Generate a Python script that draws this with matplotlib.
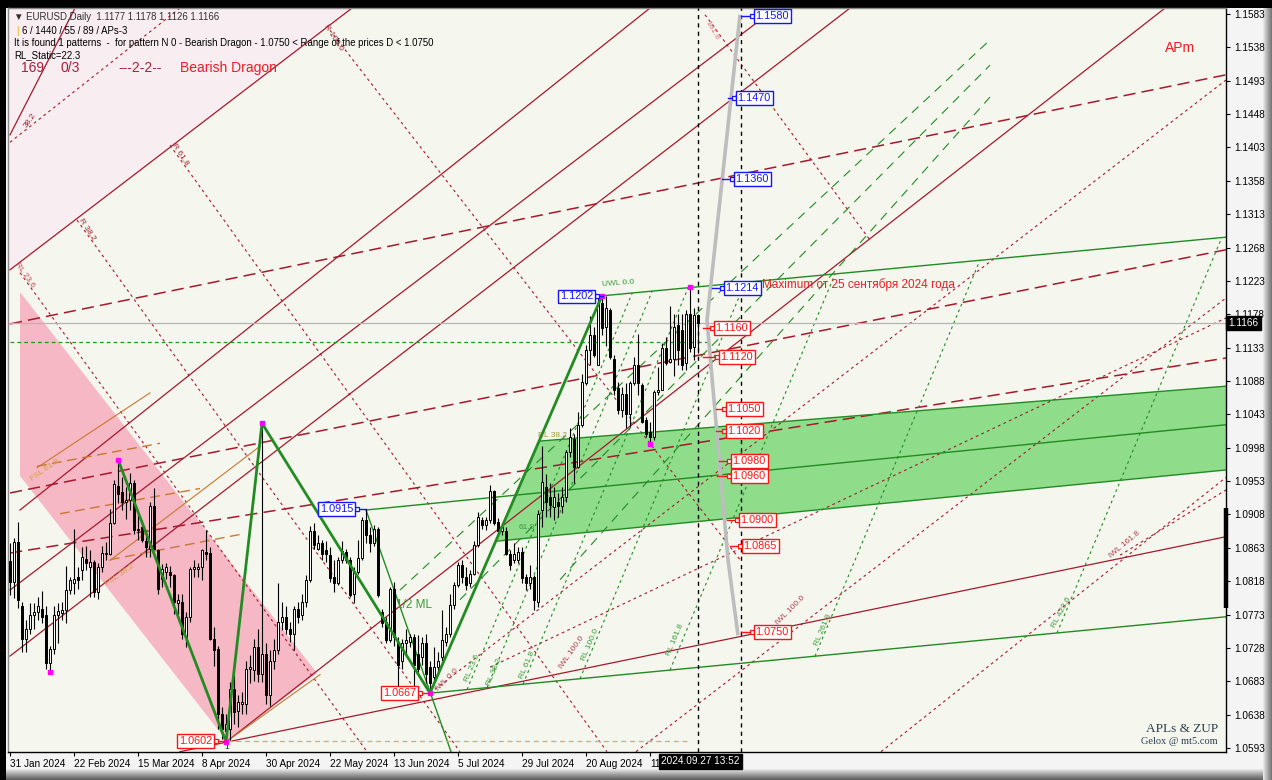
import matplotlib
matplotlib.use("Agg")
import matplotlib.pyplot as plt
from matplotlib.patches import Polygon, Rectangle
import matplotlib.transforms as mtransforms
import numpy as np

plt.rcParams['font.family'] = ['Liberation Sans', 'DejaVu Sans']

# ---------------- data (bar index 0 = 31 Jan 2024, daily bars) ----------------
opens = [1.0845,1.0817,1.0871,1.0785,1.0740,1.0754,1.0772,1.0776,1.0781,1.0772,
         1.0707,1.0727,1.0772,1.0775,1.0779,1.0806,1.0815,1.0824,1.0833,1.0848,
         1.0837,1.0844,1.0803,1.0837,1.0855,1.0855,1.0896,1.0947,1.0938,1.0925,
         1.0927,1.0950,1.0889,1.0891,1.0872,1.0862,1.0920,1.0860,1.0821,1.0830,
         1.0831,1.0826,1.0788,1.0790,1.0743,1.0770,1.0835,1.0835,1.0837,1.0858,
         1.0856,1.0740,1.0727,1.0639,1.0616,1.0619,1.0673,1.0643,1.0653,1.0652,
         1.0700,1.0698,1.0729,1.0693,1.0720,1.0664,1.0711,1.0725,1.0763,1.0770,
         1.0754,1.0747,1.0781,1.0772,1.0790,1.0819,1.0885,1.0862,1.0869,1.0860,
         1.0853,1.0824,1.0815,1.0846,1.0858,1.0846,1.0801,1.0831,1.0849,1.0900,
         1.0880,1.0869,1.0889,1.0777,1.0763,1.0738,1.0808,1.0736,1.0710,1.0734,
         1.0736,1.0743,1.0720,1.0716,1.0734,1.0702,1.0689,1.0702,1.0716,1.0736,
         1.0747,1.0786,1.0813,1.0840,1.0824,1.0815,1.0828,1.0867,1.0900,1.0894,
         1.0900,1.0939,1.0898,1.0885,1.0885,1.0855,1.0846,1.0846,1.0858,1.0824,
         1.0815,1.0824,1.0790,1.0914,1.0945,1.0932,1.0918,1.0925,1.0920,1.0932,
         1.0992,1.1010,1.0972,1.1028,1.1085,1.1130,1.1150,1.1110,1.1193,1.1161,
         1.1184,1.1118,1.1078,1.1049,1.1071,1.1044,1.1085,1.1110,1.1082,1.1035,
         1.1019,1.1013,1.1073,1.1076,1.1132,1.1114,1.1118,1.1163,1.1157,1.1112,
         1.1179,1.1134,1.1177]
highs = [1.0870,1.0876,1.0898,1.0790,1.0765,1.0788,1.0788,1.0797,1.0805,1.0785,
         1.0731,1.0785,1.0788,1.0790,1.0839,1.0824,1.0889,1.0837,1.0864,1.0866,
         1.0860,1.0846,1.0842,1.0866,1.0871,1.0916,1.0954,1.0982,1.0958,1.0945,
         1.0964,1.0954,1.0914,1.0900,1.0880,1.0925,1.0943,1.0862,1.0841,1.0842,
         1.0839,1.0828,1.0801,1.0801,1.0776,1.0837,1.0846,1.0842,1.0862,1.0887,
         1.0864,1.0756,1.0731,1.0648,1.0639,1.0682,1.0691,1.0664,1.0668,1.0711,
         1.0718,1.0740,1.0754,1.1031,1.0734,1.0725,1.0740,1.0815,1.0790,1.0785,
         1.0763,1.0785,1.0790,1.0801,1.0826,1.0893,1.0896,1.0880,1.0874,1.0872,
         1.0864,1.0846,1.0851,1.0872,1.0862,1.0851,1.0837,1.0874,1.0905,1.0915,
         1.0891,1.0894,1.0891,1.0781,1.0770,1.0810,1.0817,1.0743,1.0740,1.0754,
         1.0747,1.0747,1.0745,1.0743,1.0747,1.0711,1.0729,1.0723,1.0779,1.0756,
         1.0801,1.0817,1.0844,1.0846,1.0837,1.0833,1.0872,1.0911,1.0905,1.0905,
         1.0948,1.0941,1.0903,1.0894,1.0891,1.0860,1.0869,1.0864,1.0864,1.0828,
         1.0840,1.0826,1.0914,1.1000,1.0963,1.0950,1.0945,1.0937,1.0945,1.0995,
         1.1024,1.1017,1.1046,1.1098,1.1137,1.1175,1.1161,1.1202,1.1203,1.1202,
         1.1186,1.1123,1.1087,1.1080,1.1085,1.1088,1.1121,1.1152,1.1085,1.1040,
         1.1033,1.1076,1.1107,1.1139,1.1148,1.1189,1.1179,1.1179,1.1179,1.1184,
         1.1215,1.1186,1.1178]
lows = [1.0800,1.0795,1.0782,1.0722,1.0722,1.0747,1.0754,1.0765,1.0761,1.0700,
        1.0696,1.0720,1.0734,1.0765,1.0761,1.0801,1.0801,1.0808,1.0819,1.0833,
        1.0797,1.0797,1.0794,1.0830,1.0846,1.0853,1.0895,1.0923,1.0914,1.0902,
        1.0914,1.0882,1.0873,1.0871,1.0851,1.0851,1.0860,1.0801,1.0810,1.0821,
        1.0810,1.0774,1.0774,1.0740,1.0729,1.0763,1.0824,1.0824,1.0819,1.0846,
        1.0738,1.0704,1.0619,1.0605,1.0601,1.0604,1.0625,1.0621,1.0639,1.0639,
        1.0680,1.0684,1.0682,1.0682,1.0652,1.0650,1.0700,1.0720,1.0752,1.0747,
        1.0736,1.0725,1.0761,1.0765,1.0783,1.0817,1.0862,1.0860,1.0846,1.0844,
        1.0817,1.0804,1.0813,1.0842,1.0842,1.0797,1.0788,1.0828,1.0846,1.0869,
        1.0858,1.0865,1.0797,1.0756,1.0734,1.0736,1.0731,1.0673,1.0700,1.0720,
        1.0729,1.0671,1.0696,1.0705,1.0680,1.0667,1.0682,1.0696,1.0711,1.0731,
        1.0743,1.0781,1.0810,1.0815,1.0806,1.0810,1.0826,1.0864,1.0889,1.0887,
        1.0896,1.0894,1.0880,1.0880,1.0853,1.0833,1.0842,1.0842,1.0815,1.0806,
        1.0808,1.0779,1.0783,1.0891,1.0905,1.0905,1.0900,1.0905,1.0910,1.0925,
        1.0986,1.0950,1.0970,1.1026,1.1082,1.1110,1.1121,1.1110,1.1150,1.1135,
        1.1118,1.1069,1.1044,1.1040,1.1024,1.1026,1.1082,1.1069,1.1031,1.1013,
        1.1003,1.1008,1.1069,1.1076,1.1110,1.1112,1.1095,1.1110,1.1103,1.1103,
        1.1127,1.1116,1.1126]
closes = [1.0817,1.0871,1.0792,1.0740,1.0754,1.0772,1.0776,1.0785,1.0770,1.0707,
          1.0727,1.0772,1.0778,1.0779,1.0806,1.0819,1.0821,1.0819,1.0851,1.0842,
          1.0844,1.0803,1.0837,1.0856,1.0856,1.0896,1.0949,1.0936,1.0925,1.0927,
          1.0950,1.0887,1.0887,1.0873,1.0864,1.0920,1.0862,1.0808,1.0835,1.0837,
          1.0826,1.0790,1.0793,1.0747,1.0770,1.0835,1.0837,1.0837,1.0860,1.0855,
          1.0740,1.0725,1.0639,1.0619,1.0625,1.0673,1.0641,1.0655,1.0655,1.0700,
          1.0702,1.0729,1.0693,1.0720,1.0664,1.0711,1.0725,1.0763,1.0770,1.0754,
          1.0747,1.0781,1.0770,1.0790,1.0819,1.0885,1.0867,1.0869,1.0855,1.0855,
          1.0822,1.0815,1.0846,1.0859,1.0846,1.0799,1.0831,1.0849,1.0900,1.0880,
          1.0869,1.0889,1.0799,1.0761,1.0738,1.0808,1.0743,1.0705,1.0734,1.0738,
          1.0743,1.0705,1.0700,1.0734,1.0693,1.0680,1.0702,1.0711,1.0738,1.0747,
          1.0786,1.0813,1.0840,1.0824,1.0813,1.0828,1.0867,1.0905,1.0894,1.0900,
          1.0939,1.0896,1.0885,1.0891,1.0855,1.0840,1.0855,1.0858,1.0822,1.0815,
          1.0824,1.0792,1.0909,1.0952,1.0925,1.0921,1.0932,1.0920,1.0932,1.0992,
          1.1013,1.0972,1.1028,1.1087,1.1130,1.1150,1.1123,1.1193,1.1159,1.1186,
          1.1121,1.1076,1.1049,1.1071,1.1044,1.1085,1.1110,1.1085,1.1033,1.1017,
          1.1013,1.1073,1.1076,1.1132,1.1112,1.1118,1.1161,1.1130,1.1110,1.1179,
          1.1132,1.1177,1.1166]

price_levels = [round(1.1583 - 0.0045 * k, 4) for k in range(23)]
date_idx = [0, 16, 32, 48, 64, 80, 96, 112, 128, 144, 160]
date_labels = ['31 Jan 2024', '22 Feb 2024', '15 Mar 2024', '8 Apr 2024', '30 Apr 2024',
               '22 May 2024', '13 Jun 2024', '5 Jul 2024', '29 Jul 2024', '20 Aug 2024',
               '11']
last_price = 1.1166

# pattern zigzag (bar index, price)
zz_idx = [27, 54, 63, 105, 148]
zz_px = [1.0982, 1.0601, 1.1031, 1.0667, 1.1203]
# extreme markers
mk_idx = [10, 27, 54, 63, 105, 148, 160, 170]
mk_px = [1.0696, 1.0982, 1.0601, 1.1031, 1.0667, 1.1203, 1.1003, 1.1215]
# future projection (grey)
proj_idx = [182.5, 174.25, 179.5, 182.0]
proj_px = [1.1582, 1.1170, 1.0847, 1.0745]

# channels / bands (bar index, price)
pink_idx = [2.5, 76.75, 54.25, 2.5]
pink_px = [1.1208, 1.0694, 1.0602, 1.0960]
band_idx = [121.75, 132.5, 304, 304]
band_px = [1.0872, 1.1007, 1.1081, 1.0968]

# line segments: (i0, p0, i1, p1)
red_solid = [(0, 1.1420, 16.25, 1.1591), (0, 1.1238, 85.5, 1.1591), (2.5, 1.0914, 160, 1.1591),
             (0, 1.0806, 191.5, 1.1591), (0, 1.0717, 210, 1.1591), (54.25, 1.0602, 288.75, 1.1591),
             (42.5, 1.0588, 304, 1.0878)]
red_longdash = [(0, 1.1165, 304, 1.1501), (0, 1.0937, 304, 1.1265), (0, 1.0856, 304, 1.1119)]
red_dotted = [(0, 1.1410, 42.5, 1.1591),
              (2.5, 1.1234, 89.25, 1.0588), (16.75, 1.1305, 112.5, 1.0588), (40, 1.1406, 149.25, 1.0588),
              (80, 1.1561, 182.5, 1.0847), (173.75, 1.1582, 215, 1.1278),
              (105, 1.0667, 304, 1.1494), (156.5, 1.0588, 304, 1.1200), (217.75, 1.0588, 304, 1.0958),
              (120, 1.0702, 304, 1.1173), (277.5, 1.0853, 304, 1.0941)]
brown_solid = [(6.75, 1.0971, 35, 1.1072), (25, 1.0846, 62.5, 1.1000), (54.25, 1.0602, 77.5, 1.0692)]
brown_dash = [(6.75, 1.0973, 37.5, 1.1004), (12.5, 1.0909, 47.5, 1.0943), (25, 1.0847, 57.5, 1.0881)]
green_solid = [(148.25, 1.1203, 304, 1.1282), (89, 1.0914, 304, 1.1029), (105, 1.0667, 304, 1.0770),
               (132.5, 1.1007, 304, 1.1081), (121.75, 1.0872, 304, 1.0968), (89, 1.0914, 110.25, 1.0588)]
green_longdash = [(97.5, 1.0806, 245, 1.1548), (112.5, 1.0793, 245, 1.1514), (137.5, 1.0820, 245, 1.1471)]
rl_base_idx = [114.25, 119.25, 128.25, 142.5, 165, 201.25, 261.75]
rl_slope = 0.0012948  # price per bar

box_labels = [  # text, colour, box x (bar idx), anchor x (bar idx), side
    ('1.1580', 'blue', 185.5, 182.75, 'left'), ('1.1470', 'blue', 181.0, 179.5, 'left'),
    ('1.1360', 'blue', 180.5, 178.0, 'left'), ('1.1214', 'blue', 178.0, 175.5, 'left'),
    ('1.1202', 'blue', 146.75, 148.25, 'right'), ('1.0915', 'blue', 86.75, 89.0, 'right'),
    ('1.1160', 'red', 175.5, 173.25, 'left'), ('1.1120', 'red', 176.75, 173.25, 'left'),
    ('1.1050', 'red', 178.5, 176.5, 'left'), ('1.1020', 'red', 178.5, 176.5, 'left'),
    ('1.0980', 'red', 179.75, 177.25, 'left'), ('1.0960', 'red', 179.75, 176.75, 'left'),
    ('1.0900', 'red', 181.75, 179.25, 'left'), ('1.0865', 'red', 182.5, 180.0, 'left'),
    ('1.0750', 'red', 185.5, 182.75, 'left'), ('1.0667', 'red', 102.5, 105.0, 'right'),
    ('1.0602', 'red', 51.5, 54.25, 'right')]

line_texts = [  # text, i, p, rotation, colour
    ('RL 23.6', 3.75, 1.1231, -55, '#d04050'), ('R 38.2', 19.25, 1.1292, -57, '#a02030'),
    ('R 61.8', 42.5, 1.1393, -57, '#a02030'), ('R 100.0', 80.75, 1.1551, -57, '#a02030'),
    ('161.8', 175.5, 1.1561, -60, '#e07080'), ('38.2', 5, 1.1440, 55, '#a02030'),
    ('FSL 61.8', 8.75, 1.0968, 35, '#d8a040'), ('FSL 38.2', 27.5, 1.0826, 35, '#d8a040'),
    ('UWL 0.0', 152, 1.1219, 4, '#3a9a3a'), ('RL 38.2', 135.5, 1.1014, 0, '#9a9a30'),
    ('61.8', 129.25, 1.0891, 0, '#3a9a3a'), ('IWL 0.0', 109.25, 1.0685, 45, '#b04050'),
    ('RL 23.6', 115.5, 1.0701, 67, '#3a9a3a'), ('RL 38.2', 121, 1.0696, 67, '#3a9a3a'),
    ('RL 61.8', 129.25, 1.0705, 67, '#3a9a3a'), ('IWL 100.0', 140.5, 1.0722, 55, '#b04050'),
    ('RL 100.0', 145, 1.0732, 67, '#3a9a3a'), ('RL 161.8', 166.25, 1.0739, 67, '#3a9a3a'),
    ('IWL 100.0', 195, 1.0779, 45, '#b04050'), ('RL 261.8', 203.25, 1.0752, 67, '#3a9a3a'),
    ('RL 423.6', 263, 1.0776, 62, '#3a9a3a'), ('IWL 161.8', 278.75, 1.0867, 40, '#b04050')]

# ---------------- figure ----------------
W, H = 1272, 780
fig = plt.figure(figsize=(W / 100, H / 100), dpi=100)
fig.patch.set_facecolor('#000000')


def frame_rect(x0, y0, x1, y1, color, z=0):
    fig.add_artist(Rectangle((x0 / W, 1 - y1 / H), (x1 - x0) / W, (y1 - y0) / H,
                             transform=fig.transFigure, facecolor=color, edgecolor='none', zorder=z))


frame_rect(6, 8, 1263, 770, '#f4f4f4')
bevel = ['#e6e6e6', '#d6d6d6', '#c8c8c8', '#bababa', '#acacac', '#9e9e9e', '#909090', '#848484', '#787878']
for k, col in enumerate(bevel):
    frame_rect(1263 + k, 8, 1264 + k, 780, col)
for k, col in enumerate(bevel + ['#6c6c6c', '#606060']):
    frame_rect(6, 769 + k, 1263, 770 + k, col)

ax = fig.add_axes([8 / W, 1 - 752 / H, 1218 / W, 744 / H])
ax.set_facecolor('#f5f7ef')
ax.set_xlim(-0.5, 304)
ax.set_ylim(1.058759, 1.159109)

# light tinted region above first fan line
ax.add_patch(Polygon([(-0.5, 1.1591), (-0.5, 1.1236), (85.5, 1.1591)], closed=True,
                     facecolor='#f8edf0', edgecolor='none', zorder=0.5))

# channels
ax.add_patch(Polygon(list(zip(pink_idx, pink_px)), closed=True, facecolor='#f5b8c4',
                     edgecolor='none', zorder=1))
ax.add_patch(Polygon(list(zip(band_idx, band_px)), closed=True, facecolor='#8fdc8b',
                     edgecolor='none', zorder=1))


def seg(lst, **kw):
    for i0, p0, i1, p1 in lst:
        ax.plot([i0, i1], [p0, p1], **kw)


seg(red_solid, color='#a8182c', lw=0.9, zorder=2)
seg(red_longdash, color='#a8182c', lw=1.1, dashes=(8, 4), zorder=2)
seg(red_dotted, color='#a8182c', lw=0.8, dashes=(2.5, 3), zorder=2)
seg(brown_solid, color='#c87830', lw=0.8, zorder=2)
seg(brown_dash, color='#c87830', lw=1.0, dashes=(7, 4), zorder=2)
seg(green_solid, color='#228b22', lw=1.0, zorder=2)
seg(green_longdash, color='#228b22', lw=0.8, dashes=(8, 6), zorder=2)

# RL fan lines from lower line up to the upper warning line
lo_i0, lo_p0, lo_i1, lo_p1 = green_solid[2]
up_i0, up_p0, up_i1, up_p1 = green_solid[0]
lo_s = (lo_p1 - lo_p0) / (lo_i1 - lo_i0)
up_s = (up_p1 - up_p0) / (up_i1 - up_i0)
for b in rl_base_idx:
    pb = lo_p0 + (b - lo_i0) * lo_s
    ie = (up_p0 - up_s * up_i0 - pb + rl_slope * b) / (rl_slope - up_s)
    pe = pb + rl_slope * (ie - b)
    ax.plot([b, ie], [pb, pe], color='#228b22', lw=0.8, dashes=(2.5, 3), zorder=2)

# horizontal / vertical helper lines
ax.axhline(last_price, color='#b4b4b4', lw=0.9, zorder=2)
ax.plot([0, 175], [1.1141, 1.1141], color='#1a9a1a', lw=0.9, dashes=(3, 2.5), zorder=2)
ax.plot([54.25, 170], [1.0602, 1.0602], color='#f0a050', lw=0.9, dashes=(4, 3), zorder=2)
for xv in (172, 182.75):
    ax.axvline(xv, color='black', lw=1.0, dashes=(3, 3), zorder=3)

# candles
o = np.array(opens); h = np.array(highs); l = np.array(lows); c = np.array(closes)
idx = np.arange(len(o))
ax.vlines(idx, l, h, color='black', lw=0.8, zorder=4)
up = c >= o
bb = np.minimum(o, c)
bh = np.maximum(np.abs(c - o), 0.00004)
ax.bar(idx[up], bh[up], bottom=bb[up], width=0.72, facecolor='white', edgecolor='black',
       linewidth=0.7, zorder=5)
ax.bar(idx[~up], bh[~up], bottom=bb[~up], width=0.72, facecolor='black', edgecolor='black',
       linewidth=0.7, zorder=5)

# zigzag & projection
ax.plot(zz_idx, zz_px, color='#228b22', lw=2.0, zorder=6)
ax.plot(proj_idx, proj_px, color='#bdbdbd', lw=2.6, zorder=6, solid_capstyle='butt')
ax.plot(mk_idx, mk_px, 's', ms=3, color='#ff00ff', zorder=7, ls='none')

# boxed price labels
for txt, col, xb, xa, side in box_labels:
    p = float(txt)
    cc = '#1414ff' if col == 'blue' else '#ff1414'
    ax.plot([xa, xb], [p, p], color=cc, lw=1.0, zorder=7)
    ax.plot([xb], [p], marker='s', ms=3, mfc='white', mec=cc, mew=0.9, zorder=8)
    off = 0.9 if side == 'left' else -0.9
    ax.text(xb + off, p, txt, color=cc, fontsize=7.8, ha=side, va='center', zorder=9,
            bbox=dict(facecolor='white', edgecolor=cc, boxstyle='square,pad=0.18', lw=1.0))

for t, i, p, r, col in line_texts:
    ax.text(i, p, t, fontsize=6, color=col, rotation=r, ha='center', va='center', zorder=3,
            rotation_mode='anchor')
ax.text(54.25, 1.0594, '1', fontsize=6, color='#202020', ha='center', va='center', zorder=3)
ax.text(96.5, 1.0786, '1/2 ML', fontsize=8.5, color='#3a9a3a', ha='left', va='center', zorder=3)

# right-edge marker bar
ax.plot([304, 304], [1.0917, 1.0782], color='black', lw=3.2, zorder=10, clip_on=False,
        solid_capstyle='butt')

# axes styling
ax.yaxis.tick_right()
ax.set_yticks(price_levels)
ax.set_yticklabels([f'{v:.4f}' for v in price_levels], fontsize=7.2)
ax.tick_params(axis='y', length=3, pad=3, colors='black', width=0.8)
ax.set_xticks(date_idx)
ax.set_xticklabels(date_labels, fontsize=7.2)
for lbl in ax.get_xticklabels():
    lbl.set_ha('left')
ax.tick_params(axis='x', length=3, pad=2, colors='black', width=0.8)
ax.spines['right'].set_color('black')
ax.spines['bottom'].set_color('black')
ax.spines['top'].set_color('#8c8c8c')
ax.spines['left'].set_color('#8c8c8c')
for s in ax.spines.values():
    s.set_linewidth(1.0)

trans = mtransforms.blended_transform_factory(ax.transAxes, ax.transData)
ax.text(1.002, last_price, '1.1166', transform=trans, color='white', fontsize=7.2,
        ha='left', va='center', clip_on=False, zorder=12,
        bbox=dict(facecolor='black', edgecolor='black', boxstyle='square,pad=0.2'))

# header texts
fs_h = 6.9
fig.text(14 / W, 1 - 17 / H, '\u25bc EURUSD,Daily  1.1177 1.1178 1.1126 1.1166', fontsize=fs_h,
         color='#303030', va='center', ha='left')
fig.text(16 / W, 1 - 31 / H, '|', fontsize=fs_h, color='#e0b000', va='center', ha='left')
fig.text(22 / W, 1 - 31 / H, '6 / 1440 / 55 / 89 / APs-3', fontsize=fs_h, color='black',
         va='center', ha='left')
fig.text(14 / W, 1 - 43 / H, 'It is found 1 patterns  -  for pattern N 0 - Bearish Dragon - 1.0750 '
         '< Range of the prices D < 1.0750', fontsize=fs_h, color='black', va='center', ha='left')
fig.text(14 / W, 1 - 55 / H, 'RL_Static=22.3', fontsize=fs_h, color='black', va='center', ha='left')
fig.text(21 / W, 1 - 68 / H, '169', fontsize=10, color='#a82040', va='center', ha='left')
fig.text(60 / W, 1 - 68 / H, '0/3', fontsize=10, color='#a82040', va='center', ha='left')
fig.text(118 / W, 1 - 68 / H, '---2-2--', fontsize=10, color='#a82040', va='center', ha='left')
fig.text(180 / W, 1 - 68 / H, 'Bearish Dragon', fontsize=10, color='#ee1c24', va='center', ha='left')
fig.text(1165 / W, 1 - 48 / H, 'APm', fontsize=10, color='#ee1c24', va='center', ha='left')
fig.text(762 / W, 1 - 285 / H, 'Maximum от 25 сентября 2024 года', fontsize=8.5, color='#ee1c24',
         va='center', ha='left')
fig.text(1218 / W, 1 - 729 / H, 'APLs & ZUP', fontsize=9.5, color='#2c3e50', va='center', ha='right',
         family=['Liberation Serif', 'DejaVu Serif'])
fig.text(1218 / W, 1 - 742 / H, 'Gelox @ mt5.com', fontsize=7.5, color='#2c3e50', va='center',
         ha='right', family=['Liberation Serif', 'DejaVu Serif'])
fig.text(661 / W, 1 - 761 / H, '2024.09.27 13:52', fontsize=7.2, color='white', va='center', ha='left',
         zorder=20, bbox=dict(facecolor='black', edgecolor='black', boxstyle='square,pad=0.25'))

fig.savefig('out.png', dpi=100, facecolor=fig.get_facecolor())
